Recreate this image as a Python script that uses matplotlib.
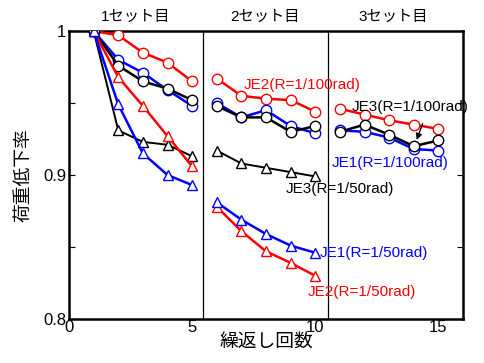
import matplotlib
matplotlib.use("Agg")
import matplotlib.pyplot as plt
import numpy as np

plt.rcParams['font.family'] = ['Liberation Sans', 'Noto Sans CJK JP', 'DejaVu Sans']

# cycles for each set
x1 = [1, 2, 3, 4, 5]
x2 = [6, 7, 8, 9, 10]
x3 = [11, 12, 13, 14, 15]

# set 1 (R=1/100rad circles, R=1/50rad triangles)
je1_100_s1 = [1.0, 0.980, 0.971, 0.959, 0.948]
je2_100_s1 = [1.0, 0.997, 0.985, 0.978, 0.965]
je3_100_s1 = [1.0, 0.976, 0.965, 0.960, 0.952]
je1_50_s1 = [1.0, 0.949, 0.915, 0.900, 0.893]
je2_50_s1 = [1.0, 0.968, 0.948, 0.927, 0.906]
je3_50_s1 = [1.0, 0.931, 0.923, 0.921, 0.913]

# set 2
je1_100_s2 = [0.950, 0.940, 0.945, 0.934, 0.929]
je2_100_s2 = [0.967, 0.955, 0.953, 0.952, 0.944]
je3_100_s2 = [0.948, 0.940, 0.940, 0.930, 0.934]
je1_50_s2 = [0.881, 0.869, 0.859, 0.851, 0.846]
je2_50_s2 = [0.878, 0.861, 0.847, 0.839, 0.830]
je3_50_s2 = [0.917, 0.908, 0.905, 0.902, 0.899]

# set 3 (only R=1/100rad)
je1_100_s3 = [0.931, 0.930, 0.926, 0.918, 0.917]
je2_100_s3 = [0.946, 0.942, 0.938, 0.935, 0.932]
je3_100_s3 = [0.930, 0.935, 0.928, 0.920, 0.924]

set_labels = ["1セット目", "2セット目", "3セット目"]
set_centres = [2.7, 7.95, 13.15]

fig = plt.figure(figsize=(4.84, 3.63), dpi=100)
ax = fig.add_axes([0.1426, 0.1212, 0.814, 0.7934])

def series(x, y, color, marker, lw):
    ax.plot(x, y, color=color, lw=lw, marker=marker, ms=7.5,
            mfc="white", mec=color, mew=1.0, zorder=3)

for xs, b, r, k in [(x1, je1_100_s1, je2_100_s1, je3_100_s1),
                    (x2, je1_100_s2, je2_100_s2, je3_100_s2),
                    (x3, je1_100_s3, je2_100_s3, je3_100_s3)]:
    series(xs, r, "red", "o", 1.8)
    series(xs, b, "blue", "o", 1.8)
    series(xs, k, "black", "o", 1.8)

for xs, b, r, k in [(x1, je1_50_s1, je2_50_s1, je3_50_s1),
                    (x2, je1_50_s2, je2_50_s2, je3_50_s2)]:
    series(xs, k, "black", "^", 1.4)
    series(xs, r, "red", "^", 1.8)
    series(xs, b, "blue", "^", 1.8)

# set dividers
ax.axvline(5.45, color="black", lw=0.9)
ax.axvline(10.5, color="black", lw=0.9)

for cx, lab in zip(set_centres, set_labels):
    ax.text(cx, 1.0097, lab, ha="center", va="center", fontsize=11)

fs = 11
ax.text(7.1, 0.9625, "JE2(R=1/100rad)", color="red", fontsize=fs, va="center")
ax.text(11.5, 0.947, "JE3(R=1/100rad)", color="black", fontsize=fs, va="center")
ax.annotate("", xy=(14.08, 0.9225), xytext=(14.4, 0.9375),
            arrowprops=dict(arrowstyle="-|>", color="black", lw=1, mutation_scale=9))
ax.text(10.65, 0.908, "JE1(R=1/100rad)", color="blue", fontsize=fs, va="center")
ax.text(8.8, 0.890, "JE3(R=1/50rad)", color="black", fontsize=fs, va="center")
ax.text(10.2, 0.846, "JE1(R=1/50rad)", color="blue", fontsize=fs, va="center")
ax.text(9.68, 0.819, "JE2(R=1/50rad)", color="red", fontsize=fs, va="center")

ax.set_xlim(0, 16)
ax.set_ylim(0.8, 1.0)
ax.set_xticks([0, 5, 10, 15])
ax.set_yticks([0.8, 0.85, 0.9, 0.95, 1.0])
ax.set_yticklabels(["0.8", "", "0.9", "", "1"])
ax.tick_params(axis="y", direction="in", length=4, right=True, labelsize=12, pad=2)
ax.tick_params(axis="x", length=0, labelsize=12, pad=1)
for s in ax.spines.values():
    s.set_linewidth(1.8)

ax.set_xlabel("繰返し回数", fontsize=13.5, labelpad=-1)
ax.set_ylabel("荷重低下率", fontsize=13.5, labelpad=8)

fig.savefig("out.png", dpi=100)
